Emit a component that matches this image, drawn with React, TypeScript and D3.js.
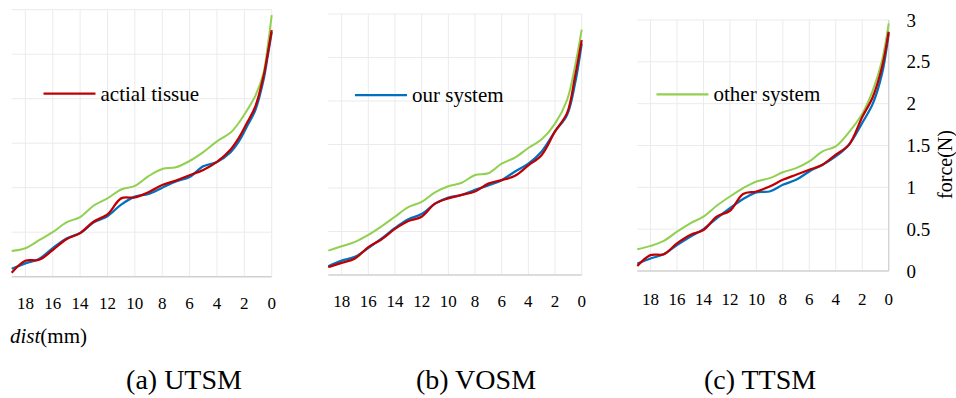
import React from "react";
import * as d3 from "d3";

// ---------- data ----------
const xTicks = [18, 16, 14, 12, 10, 8, 6, 4, 2, 0];
const yTicks = [0, 0.5, 1, 1.5, 2, 2.5, 3];

const distA = [19, 18, 17, 16, 15, 14, 13, 12, 11, 10, 9, 8, 7, 6, 5, 4, 3, 2.4, 1.8, 1.2, 0.6, 0.3, 0];
const greenA = [0.29, 0.32, 0.41, 0.5, 0.61, 0.67, 0.8, 0.88, 0.98, 1.02, 1.13, 1.21, 1.23, 1.3, 1.4, 1.52, 1.62, 1.73, 1.87, 2.03, 2.29, 2.58, 2.94];
const redA = [0.045, 0.18, 0.19, 0.3, 0.42, 0.49, 0.62, 0.7, 0.88, 0.89, 0.95, 1.03, 1.08, 1.14, 1.2, 1.29, 1.43, 1.56, 1.73, 1.91, 2.25, 2.5, 2.77];
const blueA = [0.09, 0.15, 0.2, 0.32, 0.43, 0.49, 0.61, 0.68, 0.81, 0.9, 0.93, 1.0, 1.07, 1.12, 1.24, 1.29, 1.4, 1.52, 1.69, 1.87, 2.21, 2.47, 2.75];

const distB = [19, 18, 17, 16, 15, 14, 13, 12, 11, 10, 9, 8, 7, 6, 5, 4, 3, 2, 1.1, 0.5, 0];
const greenB = [0.28, 0.33, 0.38, 0.46, 0.56, 0.67, 0.78, 0.84, 0.95, 1.02, 1.06, 1.15, 1.17, 1.28, 1.35, 1.46, 1.56, 1.74, 2.01, 2.4, 2.82];
const redB = [0.09, 0.14, 0.19, 0.32, 0.41, 0.53, 0.62, 0.67, 0.82, 0.88, 0.92, 0.96, 1.05, 1.09, 1.14, 1.26, 1.38, 1.65, 1.86, 2.28, 2.7];
const blueB = [0.1, 0.165, 0.21, 0.31, 0.42, 0.54, 0.64, 0.7, 0.82, 0.89, 0.92, 0.98, 1.03, 1.09, 1.19, 1.28, 1.42, 1.65, 1.84, 2.2, 2.66];

const distC = [19, 18, 17, 16, 15, 14, 13, 12, 11, 10, 9, 8, 7, 6, 5, 4, 3, 2, 1.2, 0.5, 0];
const greenC = [0.26, 0.3, 0.36, 0.47, 0.57, 0.65, 0.78, 0.89, 0.99, 1.07, 1.11, 1.18, 1.23, 1.31, 1.43, 1.49, 1.66, 1.88, 2.16, 2.52, 2.96];
const redC = [0.06, 0.19, 0.2, 0.33, 0.43, 0.49, 0.65, 0.72, 0.92, 0.95, 1.01, 1.09, 1.15, 1.21, 1.27, 1.39, 1.51, 1.84, 2.08, 2.44, 2.86];
const blueC = [0.09, 0.15, 0.2, 0.31, 0.41, 0.5, 0.63, 0.75, 0.86, 0.94, 0.95, 1.03, 1.09, 1.19, 1.27, 1.37, 1.51, 1.77, 2.0, 2.36, 2.84];

const captions = ["(a) UTSM", "(b) VOSM", "(c) TTSM"];
const legendLabels = ["actial tissue", "our system", "other system"];

const GREEN = "#92D050";
const BLUE = "#0070C0";
const RED = "#C00000";
const FONT = "Liberation Serif";

type Panel = {
  dist: number[];
  green: number[];
  red: number[];
  blue: number[];
  x0: number;
  x1: number;
  yBottom: number;
  yTop: number;
  tickBaseline: number;
  captionX: number;
  legendColor: string;
  legendLabel: string;
  legendX: number;
  legendY: number;
};

const panels: Panel[] = [
  {
    dist: distA, green: greenA, red: redA, blue: blueA,
    x0: 11.7, x1: 271.7, yBottom: 276.7, yTop: 9.7, tickBaseline: 309,
    captionX: 184, legendColor: RED, legendLabel: legendLabels[0], legendX: 43.5, legendY: 93.5,
  },
  {
    dist: distB, green: greenB, red: redB, blue: blueB,
    x0: 328.3, x1: 581.7, yBottom: 275, yTop: 14, tickBaseline: 307,
    captionX: 476, legendColor: BLUE, legendLabel: legendLabels[1], legendX: 355, legendY: 95,
  },
  {
    dist: distC, green: greenC, red: redC, blue: blueC,
    x0: 637.3, x1: 888.7, yBottom: 271, yTop: 20, tickBaseline: 305,
    captionX: 760, legendColor: GREEN, legendLabel: legendLabels[2], legendX: 656.5, legendY: 94.3,
  },
];

function T(props: any) {
  const { children, size, style, ...rest } = props;
  return (
    <text {...rest} fill="#000" style={{ fontFamily: `"${FONT}"`, fontSize: `${size}px`, ...(style || {}) }}>
      {children}
    </text>
  );
}

function PanelView({ p, showY }: { p: Panel; showY: boolean }) {
  const x = d3.scaleLinear().domain([19, 0]).range([p.x0, p.x1]);
  const y = d3.scaleLinear().domain([0, 3]).range([p.yBottom, p.yTop]);
  const line = (vals: number[]) =>
    d3
      .line<number>()
      .x((_, i) => x(p.dist[i]))
      .y((v) => y(v))
      .curve(d3.curveCatmullRom.alpha(0.5))(vals) || "";
  return (
    <g>
      {xTicks.map((t) => (
        <line key={"vx" + t} x1={x(t)} x2={x(t)} y1={y(3)} y2={y(0)} stroke="#ebebeb" strokeWidth={1} />
      ))}
      {yTicks.slice(1).map((t) => (
        <line key={"hy" + t} x1={x(19)} x2={x(0)} y1={y(t)} y2={y(t)} stroke="#ebebeb" strokeWidth={1} />
      ))}
      <line x1={x(19)} x2={x(0)} y1={y(0)} y2={y(0)} stroke="#d0d0d0" strokeWidth={1.5} />
      {showY && <line x1={x(0)} x2={x(0)} y1={y(3)} y2={y(0)} stroke="#d0d0d0" strokeWidth={1.2} />}
      <path d={line(p.green)} fill="none" stroke={GREEN} strokeWidth={2} />
      <path d={line(p.blue)} fill="none" stroke={BLUE} strokeWidth={2.25} />
      <path d={line(p.red)} fill="none" stroke={RED} strokeWidth={2.25} />
      {xTicks.map((t) => (
        <T key={"xl" + t} x={x(t)} y={p.tickBaseline} textAnchor="middle" size={17}>
          {String(t)}
        </T>
      ))}
      {showY &&
        yTicks.map((t) => (
          <T key={"yl" + t} x={906.5} y={y(t) + 6.5} size={19}>
            {String(t)}
          </T>
        ))}
      <line x1={p.legendX} x2={p.legendX + 52} y1={p.legendY} y2={p.legendY} stroke={p.legendColor} strokeWidth={2.25} />
      <T x={p.legendX + 57} y={p.legendY + 7} size={21}>
        {p.legendLabel}
      </T>
    </g>
  );
}

export default function App() {
  return (
    <svg width={956} height={398} style={{ position: "absolute", left: 0, top: 0, background: "#fff" }}>
      <rect x={0} y={0} width={956} height={398} fill="#fff" />
      {panels.map((p, i) => (
        <PanelView key={i} p={p} showY={i === 2} />
      ))}
      <T transform="translate(952,164.5) rotate(-90)" textAnchor="middle" size={20}>
        force(N)
      </T>
      <T x={10} y={343} size={21}>
        <tspan style={{ fontStyle: "italic" }}>dist</tspan>
        <tspan>(mm)</tspan>
      </T>
      {panels.map((p, i) => (
        <T key={"cap" + i} x={p.captionX} y={388.5} textAnchor="middle" size={28}>
          {captions[i]}
        </T>
      ))}
    </svg>
  );
}
